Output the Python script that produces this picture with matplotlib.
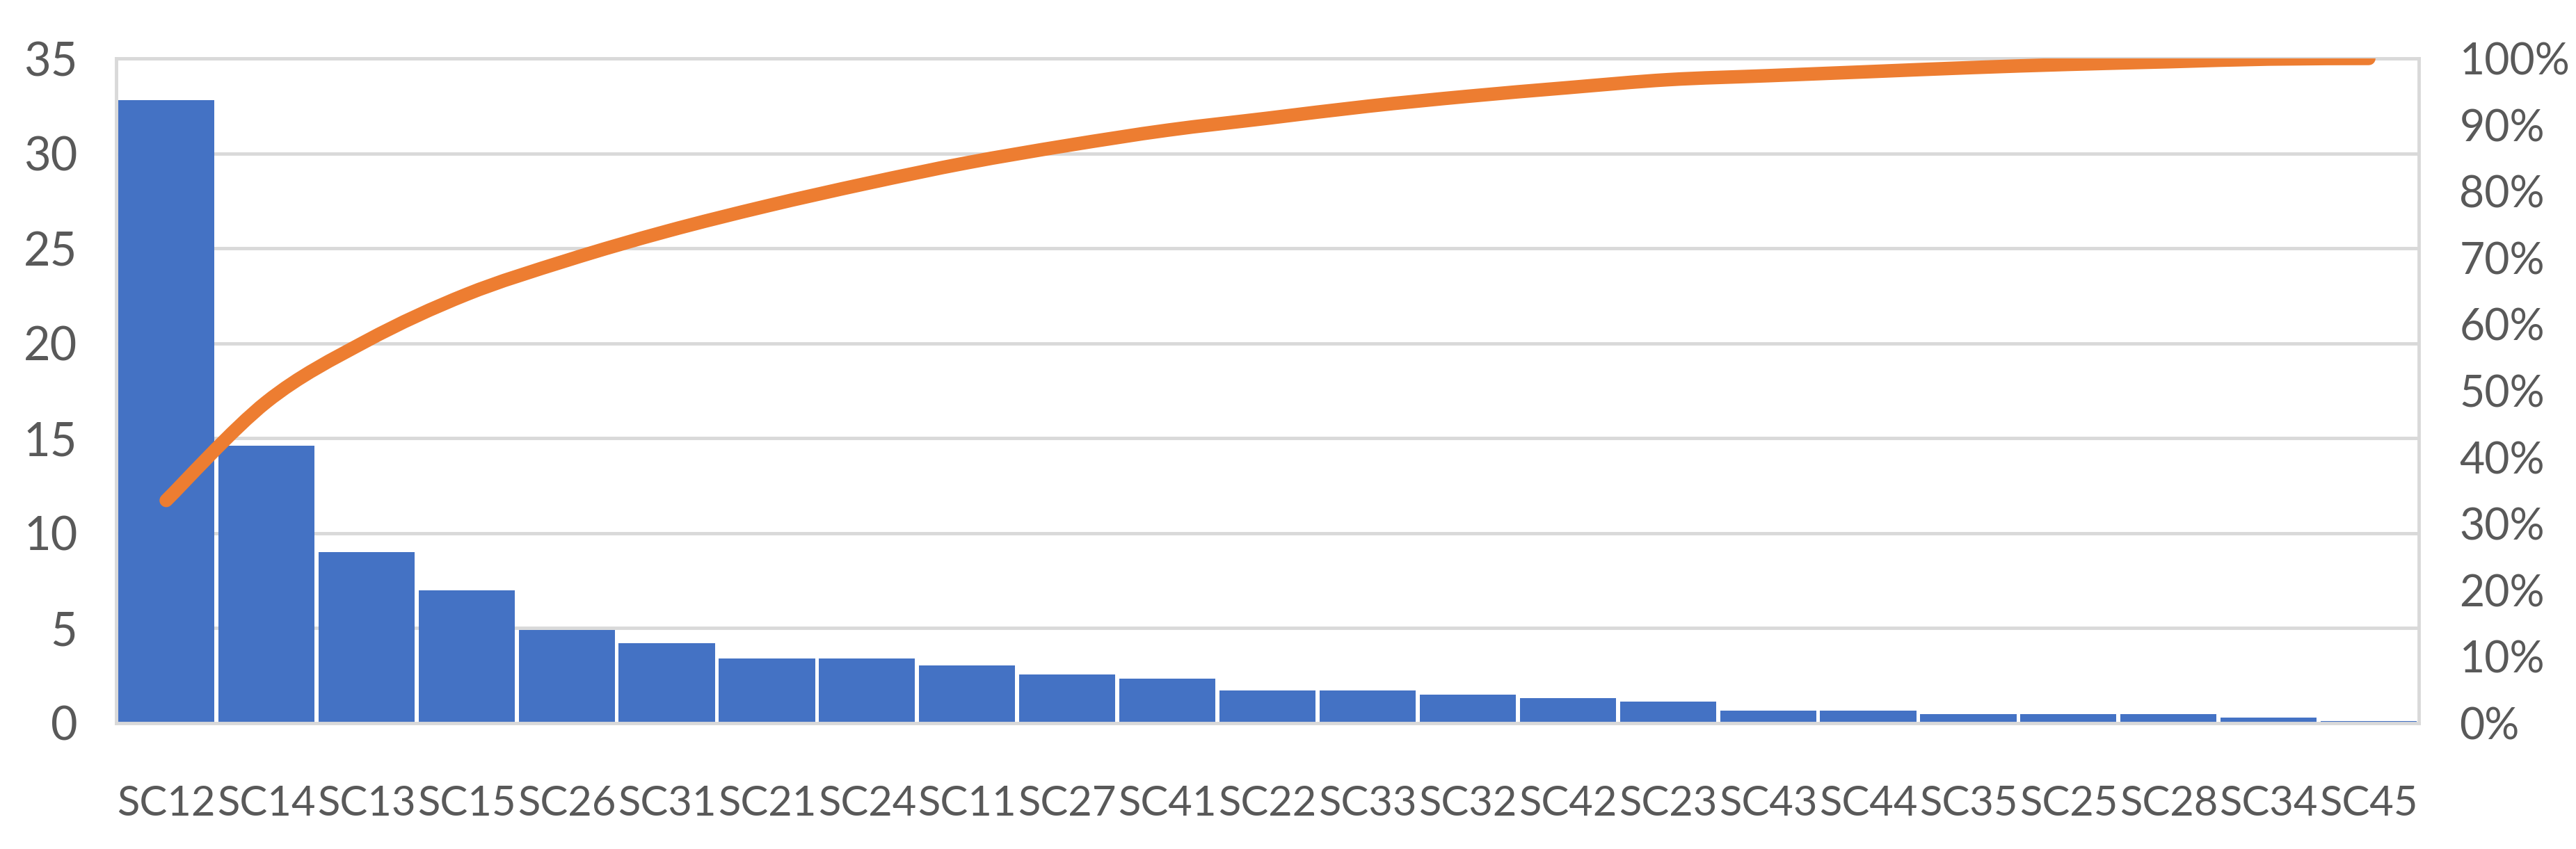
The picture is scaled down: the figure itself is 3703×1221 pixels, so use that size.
import numpy as np
import matplotlib
matplotlib.use("Agg")
import matplotlib.pyplot as plt
from matplotlib.path import Path
from matplotlib.patches import PathPatch
from matplotlib.ticker import MultipleLocator, FuncFormatter

# Pareto data
categories = ["SC12", "SC14", "SC13", "SC15", "SC26", "SC31", "SC21", "SC24",
              "SC11", "SC27", "SC41", "SC22", "SC33", "SC32", "SC42", "SC23",
              "SC43", "SC44", "SC35", "SC25", "SC28", "SC34", "SC45"]
counts = [32.8, 14.6, 9.0, 7.0, 4.9, 4.2, 3.4, 3.4,
          3.05, 2.55, 2.35, 1.7, 1.7, 1.5, 1.32, 1.15,
          0.64, 0.64, 0.47, 0.47, 0.47, 0.29, 0.11]
cumulative_pct = [33.5, 48.3, 57.5, 64.5, 69.6, 74.0, 77.8, 81.2,
                  84.3, 86.9, 89.2, 91.0, 92.8, 94.3, 95.6, 96.8,
                  97.4, 98.0, 98.6, 99.1, 99.5, 99.9, 100.0]

bar_color = "#4472C4"
line_color = "#ED7D31"
grid_color = "#D9D9D9"
text_color = "#595959"

plt.rcParams["font.family"] = ["Lato", "DejaVu Sans"]


def smooth_path(xs, ys):
    # сглаженная линия как в Excel: кривые Безье через те же точки
    pts = np.column_stack([xs, ys]).astype(float)
    verts = [pts[0]]
    codes = [Path.MOVETO]
    for i in range(len(pts) - 1):
        p0 = pts[i - 1] if i > 0 else pts[i]
        p1, p2 = pts[i], pts[i + 1]
        p3 = pts[i + 2] if i + 2 < len(pts) else pts[i + 1]
        c1 = p1 + (p2 - p0) / 6.0
        c2 = p2 - (p3 - p1) / 6.0
        verts += [c1, c2, p2]
        codes += [Path.CURVE4] * 3
    return Path(verts, codes)


fig = plt.figure(figsize=(37.03, 12.21), dpi=100, facecolor="w")
ax = fig.add_axes([0.0451, 0.1483, 0.8939, 0.7829])

x = np.arange(len(categories))
ax.bar(x, counts, width=0.96, color=bar_color, zorder=2)

ax.set_xlim(-0.5, len(categories) - 0.5)
ax.set_ylim(0, 35)
ax.yaxis.set_major_locator(MultipleLocator(5))
ax.set_xticks(x)
ax.set_xticklabels(categories)
ax.grid(axis="y", color=grid_color, linewidth=3.5, zorder=0)
ax.set_axisbelow(True)
for side in ["left", "right", "top", "bottom"]:
    ax.spines[side].set_color(grid_color)
    ax.spines[side].set_linewidth(3.5)
ax.tick_params(axis="y", length=0, labelsize=48, labelcolor=text_color, pad=40)
ax.tick_params(axis="x", length=0, labelsize=43, labelcolor=text_color, pad=64)

# Кумулятивная линия на второй оси
ax2 = ax.twinx()
ax2.set_ylim(0, 100)
ax2.add_patch(PathPatch(smooth_path(x, cumulative_pct), facecolor="none",
                        edgecolor=line_color, linewidth=14, capstyle="round",
                        joinstyle="round", zorder=3))
ax2.yaxis.set_major_locator(MultipleLocator(10))
ax2.yaxis.set_major_formatter(FuncFormatter(lambda v, p: f"{int(v)}%"))
ax2.tick_params(axis="y", length=0, labelsize=45, labelcolor=text_color, pad=42)
for side in ["left", "right", "top", "bottom"]:
    ax2.spines[side].set_visible(False)

fig.savefig("out.png", dpi=100, facecolor="w")
